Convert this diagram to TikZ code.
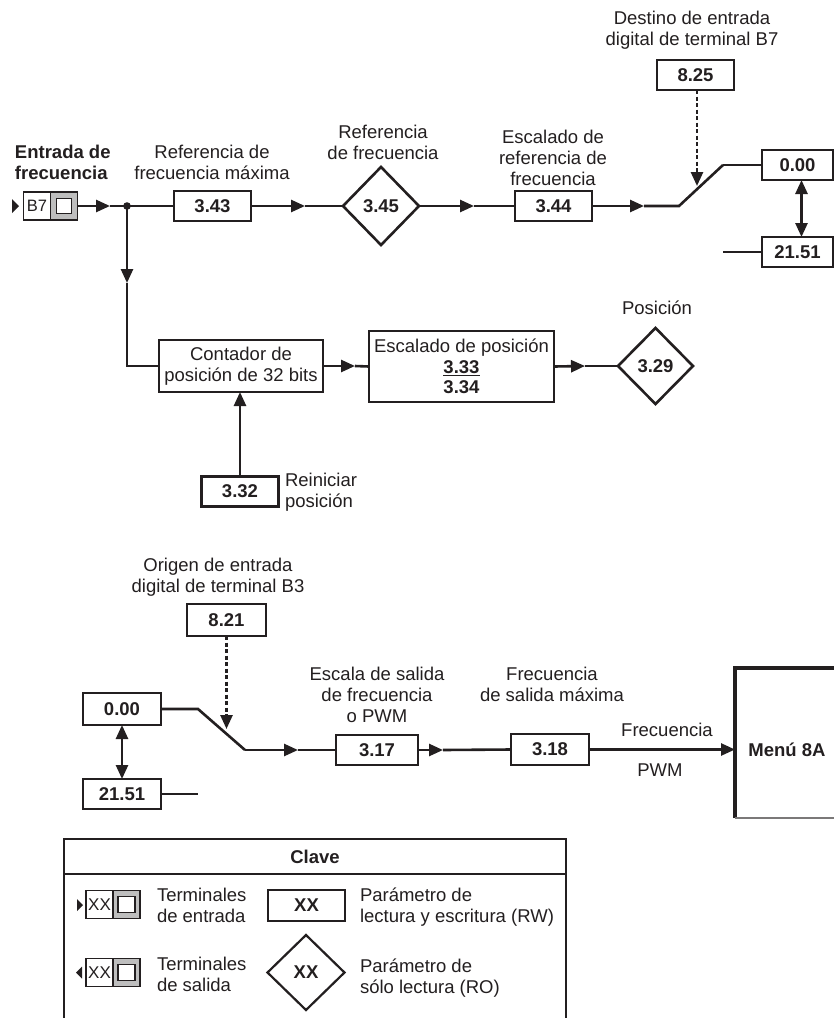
\documentclass[tikz,border=0pt]{standalone}
\usepackage{fontspec}
\setmainfont{Liberation Sans}
\usetikzlibrary{shapes.geometric,arrows.meta}
\definecolor{ink}{RGB}{35,31,32}
\definecolor{termgray}{RGB}{190,190,190}
\begin{document}
\begin{tikzpicture}[x=1pt,y=-1pt,
  every node/.style={inner sep=0pt, outer sep=0pt, text=ink},
  txt/.style={font=\fontsize{18.5}{21}\selectfont, align=center},
  txtl/.style={font=\fontsize{18.5}{21}\selectfont, align=left, anchor=west},
  btxt/.style={font=\fontsize{18.5}{21}\selectfont\bfseries, align=left},
  rwbox/.style={draw=ink, line width=2.6pt, minimum width=77pt, minimum height=30pt, font=\fontsize{18.5}{21}\selectfont\bfseries},
  robox/.style={draw=ink, diamond, line width=2.6pt, minimum width=76pt, minimum height=78pt, font=\fontsize{18.5}{21}\selectfont\bfseries},
  plainbox/.style={draw=ink, line width=2.6pt, font=\fontsize{18.5}{21}\selectfont, align=center},
  termw/.style={draw=ink, line width=1.4pt, fill=white, minimum width=27pt, minimum height=28pt, font=\fontsize{16.5}{18}\selectfont},
  termg/.style={draw=ink, line width=1.4pt, fill=termgray, minimum width=27pt, minimum height=28pt},
  termsq/.style={draw=ink, line width=1.6pt, fill=white, minimum width=15pt, minimum height=15pt},
  wire/.style={draw=ink, line width=2.6pt},
  arr/.style={wire, -{Triangle[length=14pt,width=12pt]}},
  dbl/.style={wire, {Triangle[length=14pt,width=12pt]}-{Triangle[length=14pt,width=12pt]}},
  dsh/.style={draw=ink, line width=2.6pt, dash pattern=on 4pt off 2.5pt, -{Triangle[length=14pt,width=12pt]}},
]
\path[use as bounding box, clip] (0,0) rectangle (834,1018);
\fill[white] (0,0) rectangle (834,1018);

% ---------- top row ----------
\node[btxt, anchor=west] (entrada) at (15,162) {Entrada de\\frecuencia};
\fill[ink] (12,199) -- (19,206) -- (12,213) -- cycle;
\node[termw] (b7) at (37,206) {B7};
\node[termg] (b7g) at (64,206) {};
\node[termsq] (b7sq) at (b7g) {};

\coordinate (t1) at (110,206);
\coordinate (j) at (127,206);
\node[rwbox] (p343) at (212.5,206) {3.43};
\node[robox] (p345) at (381,206) {3.45};
\node[rwbox] (p344) at (553.5,206) {3.44};
\coordinate (t2) at (305,206);
\coordinate (t3) at (474,206);
\coordinate (t4) at (644,206);
\coordinate (swa) at (679,206);
\coordinate (swb) at (723,165);
\node[rwbox, minimum width=71pt] (o00) at (797.5,165) {0.00};
\node[rwbox, minimum width=71pt] (o2151) at (797.5,252) {21.51};
\coordinate (s2) at (723,252);
\node[rwbox] (p825) at (695.5,75) {8.25};
\coordinate (d1) at (697,186);

\node[txt] (l343) at (212,162.5) {Referencia de\\frecuencia máxima};
\node[txt] (l345) at (383,142.5) {Referencia\\de frecuencia};
\node[txt] (l344) at (553,158) {Escalado de\\referencia de\\frecuencia};
\node[txt] (l825) at (692,30) {Destino de entrada\\digital de terminal B7};

\draw[arr] (b7g.east) -- (t1);
\draw[wire] (t1) -- (p343.west);
\fill[ink] (j) circle (3.8pt);
\draw[arr] (p343.east) -- (t2);
\draw[wire] (t2) -- (p345.west);
\draw[arr] (p345.east) -- (t3);
\draw[wire] (t3) -- (p344.west);
\draw[arr] (p344.east) -- (t4);
\draw[wire] (t4) -- (swa) -- (swb);
\draw[wire] (swb |- o00.west) -- (o00.west);
\draw[wire] (s2) -- (o2151.west);
\draw[dbl] ([xshift=4pt]o00.south) -- ([xshift=4pt]o2151.north);
\draw[dsh] (p825.south -| d1) -- (d1);

% ---------- position row ----------
\node[plainbox, minimum width=164pt, minimum height=52pt] (cont) at (241,366) {Contador de\\posición de 32 bits};
\node[plainbox, minimum width=185pt, minimum height=71pt] (esc) at (461.5,366.5) {Escalado de posición\\\textbf{\underline{3.33}}\\[-1pt]\textbf{3.34}};
\node[robox, minimum width=75pt, minimum height=76pt] (p329) at (655.5,366) {3.29};
\node[txt] (l329) at (657,308) {Posición};
\node[rwbox] (p332) at (240,491.5) {3.32};
\node[txtl] (l332) at (285,492) {Reiniciar\\posición};

\coordinate (bend) at (127,366);
\coordinate (t5) at (127,283);
\coordinate (t6) at (355,366);
\coordinate (t7) at (585,366);
\draw[arr] (j) -- (t5);
\draw[wire] (t5) -- (bend) -- (cont.west);
\draw[arr] (cont.east) -- (t6);
\draw[wire] (t6) -- (esc.west);
\draw[arr] (esc.east) -- (t7);
\draw[wire] (t7) -- (p329.west);
\draw[arr] (p332.north) -- (p332.north |- cont.south);

% ---------- lower row ----------
\node[txt] (l821) at (218,577) {Origen de entrada\\digital de terminal B3};
\node[rwbox, minimum width=79pt, minimum height=32pt] (p821) at (226.5,620) {8.21};
\node[rwbox, minimum width=78pt, minimum height=32pt] (u00) at (122,709) {0.00};
\node[rwbox, minimum width=78pt, minimum height=30pt] (u2151) at (122,794) {21.51};
\coordinate (lsa) at (198,709);
\coordinate (lsb) at (245,750);
\coordinate (ls2) at (198,794);
\coordinate (d2) at (226.5,729);
\coordinate (t8) at (298,750);
\coordinate (t9) at (443,750);
\node[rwbox, minimum width=82pt] (p317) at (377,750) {3.17};
\node[rwbox, minimum width=78pt, minimum height=31pt] (p318) at (550,749.5) {3.18};
\node[minimum width=110pt, minimum height=150pt] (menu) at (790,743) {};
\node[btxt] (menut) at (787,750) {Menú 8A};

\node[txt] (l317) at (377,695) {Escala de salida\\de frecuencia\\o PWM};
\node[txt] (l318) at (552,684) {Frecuencia\\de salida máxima};
\node[txt] (lfreq) at (667,730) {Frecuencia};
\node[txt] (lpwm) at (660,770) {PWM};

\draw[wire] (u00.east) -- (lsa) -- (lsb);
\draw[arr] (lsb) -- (t8);
\draw[wire] (t8) -- (p317.west);
\draw[wire] (u2151.east) -- (ls2);
\draw[dbl] (u00.south) -- (u2151.north);
\draw[dsh] (p821.south) -- (d2);
\draw[arr] (p317.east) -- (t9);
\draw[wire] (t9) -- (p318.west);
\draw[arr] (p318.east) -- (p318.east -| menu.west);
\draw[draw=ink, line width=4.4pt] (menu.south west) -- (menu.north west) -- (menu.north east);
\draw[draw=ink!60, line width=1.2pt] (menu.south west) -- (menu.south east);

% ---------- key ----------
\draw[draw=ink, line width=2.2pt] (64,1030) -- (64,839) -- (566,839) -- (566,1030);
\draw[draw=ink, line width=2.2pt] (64,874) -- (566,874);
\node[btxt] (clave) at (315,857) {Clave};

\fill[ink] (77,899) -- (83,905) -- (77,911) -- cycle;
\node[termw, font=\fontsize{17}{19}\selectfont] (kin) at (99.5,904.5) {XX};
\node[termg] (king) at (126.5,904.5) {};
\node[termsq, minimum width=17pt, minimum height=16pt] (kinsq) at (king) {};
\node[txtl] (lkin) at (157,905) {Terminales\\de entrada};

\fill[ink] (82,966.5) -- (76,972.5) -- (82,978.5) -- cycle;
\node[termw, font=\fontsize{17}{19}\selectfont] (kout) at (99.5,972.5) {XX};
\node[termg] (koutg) at (126.5,972.5) {};
\node[termsq, minimum width=17pt, minimum height=16pt] (koutsq) at (koutg) {};
\node[txtl] (lkout) at (157,974.5) {Terminales\\de salida};

\node[rwbox, minimum height=31pt] (krw) at (306.5,905.5) {XX};
\node[txtl] (lkrw) at (360,907.5) {Parámetro de\\lectura y escritura (RW)};
\node[robox, minimum width=77pt, minimum height=75pt, line width=2.2pt] (kro) at (306,972.5) {XX};
\node[txtl] (lkro) at (360,978.5) {Parámetro de\\sólo lectura (RO)};
\end{tikzpicture}
\end{document}
